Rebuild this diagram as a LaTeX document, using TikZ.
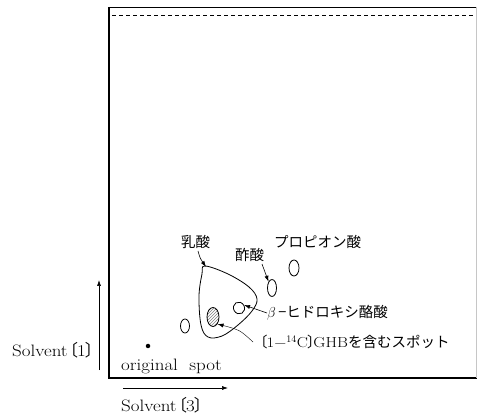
\documentclass[tikz,border=0pt]{standalone}
\usepackage{fontspec}
\setmainfont{Latin Modern Roman}[FakeStretch=1.15]
\newfontfamily\jp{Noto Sans CJK JP}
\usetikzlibrary{arrows.meta,shapes.geometric,patterns}
\newcommand{\lbr}{\kern-6pt{\jp 〔}\kern-1pt}
\newcommand{\rbr}{\kern-1pt{\jp 〕}\kern-6pt}
\begin{document}
\begin{tikzpicture}[x=1pt,y=-1pt,
  spot/.style={draw,ellipse,line width=0.8pt,inner sep=0pt},
  lbl/.style={inner sep=0pt,anchor=west,font=\fontsize{16.5}{18}\selectfont},
  jlbl/.style={inner sep=0pt,anchor=west,font=\fontsize{14.5}{16}\selectfont},
  arr/.style={-{Latex[length=6pt,width=4pt]},line width=0.6pt},
  frm/.style={line width=1.5pt}]
\useasboundingbox (0,0) rectangle (477,414);
% frame
\draw[frm] (109,7) -- (109,378) -- (477,378);
\draw[line width=0.9pt] (109,7) -- (477,7);
\draw[line width=0.8pt,dash pattern=on 4pt off 3pt] (112,15) -- (477,15);
\draw[gray!45,line width=0.4pt] (476,7) -- (476,378);
% axes arrows
\coordinate (v0) at (99,370); \coordinate (v1) at (99,280);
\coordinate (h0) at (123,388); \coordinate (h1) at (228,388);
\draw[arr] (v0) -- (v1);
\draw[arr] (h0) -- (h1);
\node[lbl] (s1) at (12,350) {Solvent\lbr1\rbr};
\node[lbl] (s3) at (121,405) {Solvent\lbr3\rbr};
% original spot
\node[circle,fill,inner sep=0pt,minimum size=4.5pt] (orig) at (148,346) {};
\node[lbl] (origt) at (121,366) {original\ \ spot};
% blob (lactic acid)
\draw[line width=0.8pt] plot[smooth cycle,tension=0.6] coordinates {(205,266) (228,274) (249,287) (257,299) (252,311) (238,325) (222,336) (208,337) (201,325) (199,296) (202,274)};
\coordinate (blobtop) at (206,267);
% spots
\node[spot,minimum width=9pt,minimum height=14pt] (sp1) at (185,326) {};
\node[spot,minimum width=12pt,minimum height=19pt,pattern=north east lines,pattern color=gray] (ghb) at (213,317) {};
\node[spot,minimum width=11pt,minimum height=12pt,rotate=30] (hb) at (239,308) {};
\node[spot,minimum width=9pt,minimum height=17pt] (ace) at (272,288) {};
\node[spot,minimum width=10pt,minimum height=16pt] (pro) at (294,268) {};
% labels
\node[jlbl] (lac) at (181,242) {\jp 乳酸};
\node[jlbl] (acet) at (235,255) {\jp 酢酸};
\node[jlbl] (prop) at (274,242) {\jp プロピオン酸};
\node[jlbl] (hbt) at (267,313) {$\beta$\,\jp −ヒドロキシ酪酸};
\node[jlbl] (ghbt) at (253,342) {\kern6pt\lbr1−$^{14}$C\kern-1pt{\jp 〕}\kern-8pt GHB{\jp を含むスポット}};
% pointers
\coordinate (l0) at (198,251);
\draw[arr] (l0) .. controls (200,258) .. (blobtop);
\coordinate (a0) at (262,264);
\draw[arr] (a0) -- (ace.north west);
\draw[arr] (hbt.west) -- (hb.east);
\draw[arr,line width=0.4pt] (ghbt.west) .. controls (240,330) .. (ghb.south east);
\end{tikzpicture}
\end{document}
